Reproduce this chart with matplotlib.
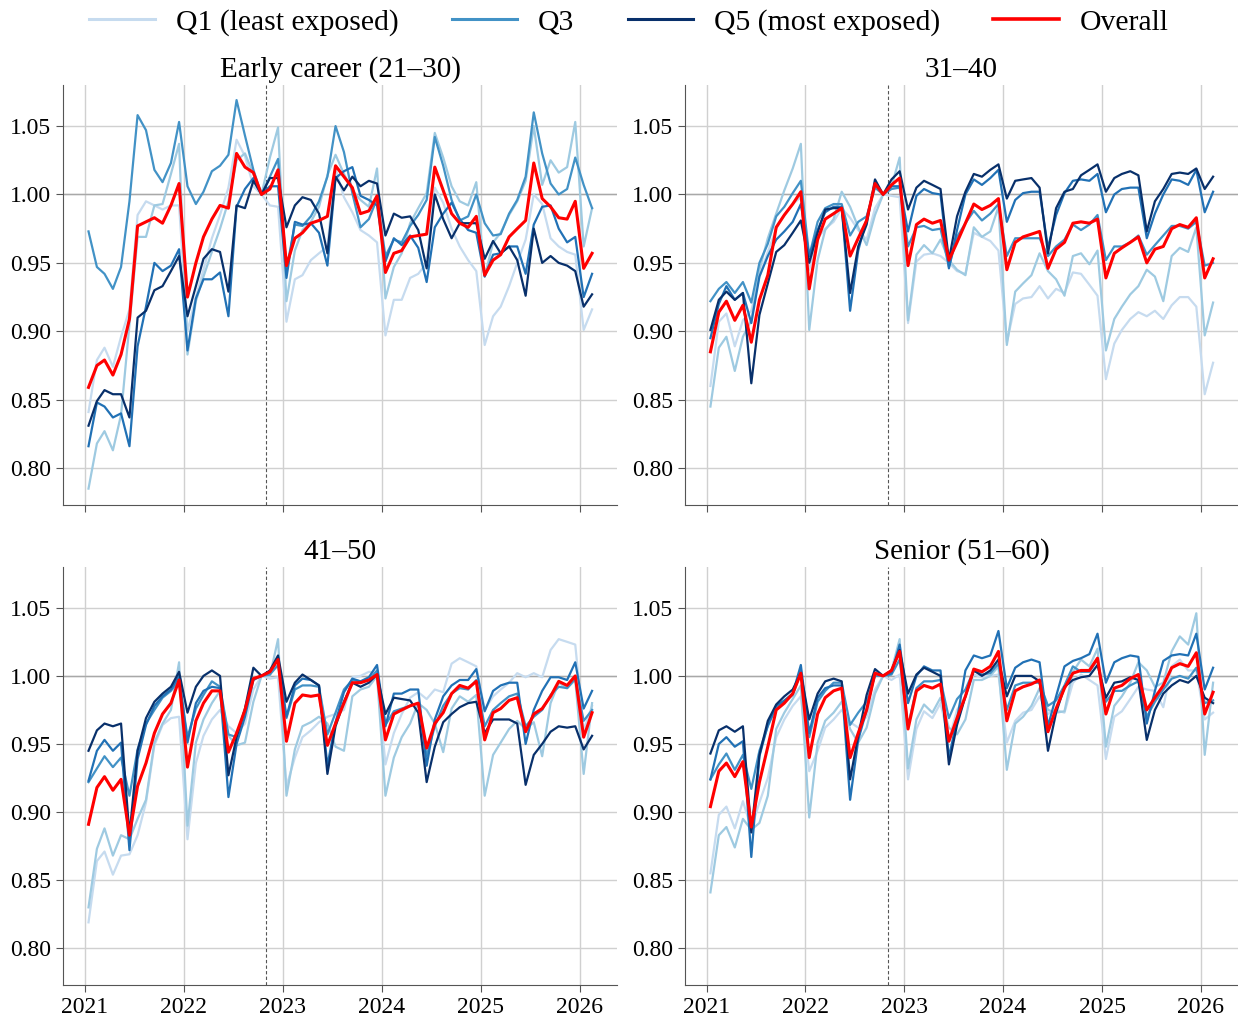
import numpy as np
import pandas as pd
import matplotlib
matplotlib.use("Agg")
import matplotlib.pyplot as plt
import matplotlib.dates as mdates
from matplotlib.lines import Line2D

plt.rcParams['font.family'] = ['Liberation Serif', 'DejaVu Serif']

# Monthly index values (normalised so Oct 2022 = 1.00), Jan 2021 .. Feb 2026
months = pd.date_range('2021-01-01', periods=62, freq='MS') + pd.Timedelta(days=14)

panel_titles = ["Early career (21\u201330)", "31\u201340", "41\u201350", "Senior (51\u201360)"]
quintile_names = ["Q1 (least exposed)", "Q2", "Q3", "Q4", "Q5 (most exposed)"]

early_q1 = [0.841, 0.879, 0.888, 0.874, 0.896, 0.916, 0.985, 0.995, 0.992, 0.989, 0.992, 0.992,
            0.900, 0.925, 0.945, 0.968, 0.985, 1.005, 1.040, 1.028, 1.006,
            1.000, 0.992, 0.991,
            0.907, 0.938, 0.941, 0.952, 0.957, 0.962, 1.019, 0.998, 0.987, 0.974, 0.970, 0.965,
            0.897, 0.923, 0.923, 0.939, 0.942, 0.950, 1.005,
            0.994, 0.975, 0.962, 0.952, 0.944, 0.890, 0.911, 0.918, 0.933, 0.950, 0.967, 1.000,
            0.993, 0.968, 0.962, 0.958, 0.956, 0.901, 0.916]
early_q2 = [0.785, 0.818, 0.827, 0.813, 0.839, 0.905, 0.969, 0.969, 0.992, 0.993, 1.015, 1.037,
            0.883, 0.922, 0.940, 0.958, 0.975, 0.995, 1.025, 1.030, 1.015,
            1.000, 1.027, 1.049,
            0.922, 0.959, 0.974, 0.980, 0.991, 1.014, 1.029, 1.015, 1.003, 0.996, 0.991, 1.019,
            0.924, 0.947, 0.957, 0.979, 0.990, 1.001, 1.045,
            1.027, 1.006, 0.995, 0.992, 1.009, 0.940, 0.965, 0.972, 0.985, 0.995, 1.010, 1.050,
            1.007, 1.025, 1.016, 1.020, 1.053, 0.962, 0.990]
early_q3 = [0.973, 0.947, 0.942, 0.931, 0.947, 0.995, 1.058, 1.047, 1.018, 1.009, 1.023, 1.053,
            1.006, 0.993, 1.002, 1.017, 1.021, 1.029, 1.069, 1.043, 1.018,
            1.000, 1.013, 1.026,
            0.945, 0.978, 0.977, 0.984, 0.995, 1.013, 1.050, 1.031, 1.001, 0.976, 0.982, 0.997,
            0.955, 0.967, 0.965, 0.977, 0.985, 0.996, 1.042,
            1.021, 0.996, 0.981, 0.984, 1.000, 0.979, 0.970, 0.971, 0.986, 0.996, 1.013, 1.060,
            1.030, 1.008, 1.000, 1.004, 1.027, 1.007, 0.990]
early_q4 = [0.816, 0.848, 0.845, 0.837, 0.840, 0.816, 0.889, 0.918, 0.950, 0.944, 0.948, 0.960,
            0.886, 0.924, 0.938, 0.938, 0.943, 0.911, 0.991, 1.004, 1.012,
            1.000, 1.006, 1.006,
            0.939, 0.980, 0.978, 0.979, 0.972, 0.948, 1.012, 1.017, 1.020, 0.999, 0.996, 0.992,
            0.951, 0.968, 0.963, 0.970, 0.961, 0.936, 0.976,
            0.986, 0.994, 0.982, 0.974, 0.972, 0.940, 0.956, 0.957, 0.962, 0.962, 0.942, 0.978,
            0.991, 0.992, 0.975, 0.965, 0.969, 0.925, 0.942]
early_q5 = [0.831, 0.849, 0.857, 0.854, 0.854, 0.837, 0.910, 0.915, 0.930, 0.933, 0.944, 0.955,
            0.911, 0.933, 0.953, 0.960, 0.958, 0.929, 0.992, 0.990, 1.010,
            1.000, 1.012, 1.012,
            0.976, 0.992, 0.998, 0.996, 0.986, 0.957, 1.013, 1.003, 1.013, 1.006, 1.010, 1.008,
            0.970, 0.986, 0.983, 0.984, 0.974, 0.946, 1.000,
            0.982, 0.968, 0.979, 0.979, 0.979, 0.953, 0.966, 0.957, 0.962, 0.952, 0.926, 0.975,
            0.950, 0.955, 0.950, 0.948, 0.944, 0.918, 0.927]
early_all = [0.859, 0.875, 0.879, 0.868, 0.883, 0.909, 0.977, 0.980, 0.983, 0.979, 0.992, 1.008,
             0.925, 0.950, 0.969, 0.982, 0.992, 0.990, 1.030, 1.020, 1.016,
             1.000, 1.004, 1.018,
             0.948, 0.968, 0.972, 0.979, 0.981, 0.984, 1.021, 1.013, 1.005, 0.986, 0.988, 0.999,
             0.943, 0.957, 0.959, 0.969, 0.970, 0.971, 1.020,
             1.003, 0.986, 0.979, 0.976, 0.984, 0.941, 0.952, 0.956, 0.969, 0.975, 0.981, 1.023,
             0.997, 0.991, 0.983, 0.982, 0.995, 0.946, 0.957]

mid1_q1 = [0.860, 0.907, 0.913, 0.889, 0.908, 0.915, 0.940, 0.958, 0.975, 0.985, 0.993, 0.998,
           0.945, 0.968, 0.975, 0.980, 0.990, 0.983, 0.974, 0.967, 0.990,
           1.000, 0.999, 0.998,
           0.906, 0.951, 0.956, 0.957, 0.955, 0.950, 0.944, 0.942, 0.972, 0.969, 0.966, 0.959,
           0.892, 0.920, 0.924, 0.925, 0.933, 0.924, 0.931,
           0.928, 0.943, 0.942, 0.934, 0.926, 0.865, 0.891, 0.901, 0.909, 0.914, 0.911, 0.915,
           0.909, 0.919, 0.925, 0.925, 0.918, 0.854, 0.877]
mid1_q2 = [0.845, 0.888, 0.896, 0.871, 0.896, 0.908, 0.945, 0.968, 0.986, 1.003, 1.019, 1.037,
           0.901, 0.952, 0.974, 0.982, 1.002, 0.991, 0.976, 0.963, 0.985,
           1.000, 1.006, 1.027,
           0.908, 0.956, 0.963, 0.957, 0.967, 0.952, 0.945, 0.941, 0.976, 0.969, 0.973, 0.991,
           0.890, 0.929, 0.935, 0.941, 0.957, 0.944, 0.938,
           0.926, 0.955, 0.957, 0.949, 0.959, 0.886, 0.909, 0.918, 0.927, 0.933, 0.945, 0.940,
           0.922, 0.955, 0.961, 0.958, 0.976, 0.897, 0.921]
mid1_q3 = [0.922, 0.931, 0.936, 0.928, 0.936, 0.921, 0.950, 0.964, 0.984, 0.991, 1.001, 1.010,
           0.955, 0.980, 0.990, 0.993, 0.993, 0.970, 0.980, 0.984, 1.005,
           1.000, 1.004, 1.005,
           0.962, 0.976, 0.977, 0.974, 0.975, 0.947, 0.969, 0.979, 0.988, 0.981, 0.986, 0.993,
           0.955, 0.968, 0.968, 0.968, 0.968, 0.955, 0.962,
           0.967, 0.978, 0.974, 0.978, 0.985, 0.952, 0.962, 0.962, 0.965, 0.970, 0.956, 0.963,
           0.970, 0.977, 0.977, 0.975, 0.980, 0.948, 0.950]
mid1_q4 = [0.895, 0.920, 0.933, 0.923, 0.928, 0.906, 0.940, 0.955, 0.967, 0.973, 0.980, 0.993,
           0.955, 0.974, 0.987, 0.991, 0.991, 0.915, 0.959, 0.982, 1.008,
           1.000, 1.006, 1.006,
           0.973, 0.999, 1.004, 1.001, 1.000, 0.946, 0.974, 1.000, 1.011, 1.007, 1.012, 1.018,
           0.980, 0.996, 1.001, 1.002, 1.002, 0.961, 0.985,
           1.001, 1.010, 1.011, 1.010, 1.015, 0.987, 1.000, 1.004, 1.005, 1.005, 0.968, 0.986,
           1.000, 1.011, 1.010, 1.007, 1.018, 0.987, 1.002]
mid1_q5 = [0.901, 0.923, 0.929, 0.923, 0.928, 0.862, 0.912, 0.935, 0.958, 0.963, 0.972, 0.981,
           0.950, 0.972, 0.989, 0.990, 0.990, 0.928, 0.962, 0.978, 1.011,
           1.000, 1.011, 1.017,
           0.989, 1.005, 1.010, 1.007, 1.004, 0.952, 0.984, 1.002, 1.015, 1.013, 1.018, 1.022,
           0.997, 1.010, 1.011, 1.012, 1.005, 0.957, 0.990,
           1.002, 1.004, 1.014, 1.018, 1.022, 1.002, 1.012, 1.015, 1.017, 1.014, 0.973, 0.995,
           1.004, 1.015, 1.016, 1.015, 1.019, 1.004, 1.013]
mid1_all = [0.885, 0.914, 0.922, 0.908, 0.919, 0.892, 0.923, 0.941, 0.976, 0.985, 0.993, 1.002,
            0.931, 0.967, 0.982, 0.986, 0.990, 0.955, 0.968, 0.981, 1.008,
            1.000, 1.007, 1.012,
            0.948, 0.978, 0.982, 0.979, 0.981, 0.952, 0.965, 0.979, 0.993, 0.989, 0.992, 0.997,
            0.945, 0.965, 0.969, 0.971, 0.973, 0.946, 0.960,
            0.965, 0.979, 0.980, 0.979, 0.982, 0.939, 0.957, 0.961, 0.965, 0.969, 0.950, 0.960,
            0.962, 0.975, 0.978, 0.976, 0.983, 0.939, 0.953]

mid2_q1 = [0.819, 0.864, 0.871, 0.854, 0.868, 0.869, 0.883, 0.907, 0.949, 0.964, 0.969, 0.970,
           0.880, 0.936, 0.956, 0.968, 0.975, 0.963, 0.958, 0.965, 0.990,
           1.000, 0.998, 0.999,
           0.919, 0.940, 0.955, 0.960, 0.966, 0.970, 0.972, 0.975, 0.999, 1.000, 1.003, 1.002,
           0.935, 0.958, 0.972, 0.984, 0.988, 0.983, 0.990,
           0.988, 1.009, 1.013, 1.010, 1.007, 0.975, 0.985, 0.990, 0.995, 1.002, 0.999, 1.002,
           0.999, 1.019, 1.027, 1.025, 1.023, 0.960, 0.978]
mid2_q2 = [0.830, 0.873, 0.888, 0.868, 0.883, 0.880, 0.895, 0.909, 0.951, 0.965, 0.975, 1.010,
           0.890, 0.951, 0.968, 0.980, 0.989, 0.956, 0.949, 0.951, 0.981,
           1.000, 1.000, 1.027,
           0.912, 0.946, 0.963, 0.966, 0.970, 0.965, 0.948, 0.945, 0.985, 0.990, 0.992, 1.000,
           0.912, 0.940, 0.955, 0.965, 0.980, 0.975, 0.965,
           0.944, 0.976, 0.985, 0.981, 0.986, 0.912, 0.942, 0.951, 0.961, 0.967, 0.961, 0.966,
           0.941, 0.980, 0.995, 0.991, 0.997, 0.928, 0.980]
mid2_q3 = [0.922, 0.932, 0.941, 0.933, 0.940, 0.912, 0.946, 0.965, 0.975, 0.984, 0.989, 0.997,
           0.955, 0.976, 0.986, 0.996, 0.992, 0.957, 0.955, 0.975, 0.998,
           1.000, 1.001, 1.008,
           0.969, 0.990, 0.993, 0.993, 0.992, 0.957, 0.973, 0.990, 0.997, 0.996, 0.997, 1.004,
           0.964, 0.974, 0.976, 0.978, 0.980, 0.941, 0.963,
           0.978, 0.987, 0.991, 0.990, 0.997, 0.963, 0.975, 0.980, 0.985, 0.987, 0.963, 0.970,
           0.975, 0.986, 0.992, 0.991, 0.998, 0.967, 0.975]
mid2_q4 = [0.923, 0.945, 0.953, 0.945, 0.951, 0.872, 0.939, 0.964, 0.978, 0.985, 0.990, 1.000,
           0.951, 0.980, 0.989, 0.992, 0.991, 0.911, 0.950, 0.970, 0.997,
           1.000, 1.003, 1.013,
           0.970, 0.993, 0.998, 0.997, 0.993, 0.934, 0.966, 0.988, 0.998, 0.996, 0.999, 1.008,
           0.963, 0.987, 0.987, 0.990, 0.990, 0.934, 0.968,
           0.985, 0.993, 0.997, 0.997, 1.005, 0.974, 0.989, 0.993, 0.995, 0.995, 0.950, 0.975,
           0.989, 0.999, 0.999, 0.997, 1.010, 0.976, 0.989]
mid2_q5 = [0.945, 0.960, 0.965, 0.963, 0.965, 0.883, 0.945, 0.969, 0.981, 0.987, 0.992, 1.003,
           0.973, 0.992, 1.000, 1.004, 1.000, 0.927, 0.955, 0.976, 1.006,
           1.000, 1.004, 1.015,
           0.981, 0.995, 1.001, 0.997, 0.993, 0.928, 0.963, 0.981, 0.995, 0.992, 0.995, 1.001,
           0.972, 0.984, 0.983, 0.982, 0.973, 0.922, 0.948,
           0.966, 0.972, 0.977, 0.980, 0.981, 0.958, 0.968, 0.968, 0.968, 0.965, 0.920, 0.942,
           0.950, 0.959, 0.963, 0.962, 0.963, 0.946, 0.956]
mid2_all = [0.891, 0.918, 0.926, 0.916, 0.924, 0.883, 0.919, 0.936, 0.958, 0.972, 0.980, 0.997,
            0.933, 0.967, 0.980, 0.989, 0.989, 0.944, 0.958, 0.975, 0.998,
            1.000, 1.003, 1.012,
            0.952, 0.980, 0.986, 0.985, 0.986, 0.949, 0.965, 0.980, 0.995, 0.995, 0.997, 1.001,
            0.953, 0.972, 0.975, 0.978, 0.980, 0.947, 0.965,
            0.973, 0.987, 0.993, 0.991, 0.996, 0.953, 0.973, 0.976, 0.982, 0.984, 0.959, 0.972,
            0.976, 0.985, 0.996, 0.993, 1.000, 0.955, 0.973]

senior_q1 = [0.855, 0.898, 0.904, 0.888, 0.908, 0.888, 0.907, 0.925, 0.955, 0.968, 0.978, 0.985,
             0.930, 0.945, 0.962, 0.968, 0.975, 0.966, 0.962, 0.970, 0.990,
             1.000, 0.997, 1.001,
             0.924, 0.961, 0.974, 0.969, 0.980, 0.953, 0.975, 0.985, 1.001, 0.999, 1.000, 1.001,
             0.951, 0.967, 0.973, 0.975, 0.985, 0.972, 0.975,
             0.973, 0.995, 1.001, 0.997, 0.993, 0.939, 0.970, 0.974, 0.983, 0.992, 0.990, 0.989,
             0.977, 1.007, 1.012, 1.004, 1.004, 0.968, 0.973]
senior_q2 = [0.841, 0.883, 0.889, 0.874, 0.895, 0.887, 0.892, 0.912, 0.961, 0.973, 0.983, 0.993,
             0.896, 0.951, 0.967, 0.973, 0.981, 0.961, 0.951, 0.962, 0.987,
             1.000, 1.004, 1.027,
             0.932, 0.968, 0.979, 0.973, 0.984, 0.962, 0.957, 0.968, 0.997, 0.997, 1.000, 1.007,
             0.931, 0.965, 0.970, 0.978, 0.991, 0.975, 0.973,
             0.974, 1.003, 1.012, 1.007, 1.020, 0.948, 0.978, 0.985, 0.995, 1.010, 1.004, 0.992,
             0.995, 1.018, 1.029, 1.023, 1.046, 0.942, 0.995]
senior_q3 = [0.924, 0.935, 0.943, 0.931, 0.942, 0.917, 0.945, 0.963, 0.977, 0.981, 0.986, 1.003,
             0.955, 0.981, 0.989, 0.995, 0.995, 0.964, 0.973, 0.981, 1.000,
             1.000, 1.001, 1.012,
             0.963, 0.991, 0.996, 0.996, 0.997, 0.969, 0.983, 0.990, 1.004, 1.001, 1.002, 1.009,
             0.975, 0.993, 0.995, 0.995, 0.995, 0.978, 0.982,
             0.993, 1.007, 1.003, 1.003, 1.012, 0.981, 0.989, 0.989, 0.993, 0.996, 0.970, 0.981,
             0.990, 0.998, 1.000, 0.998, 1.006, 0.980, 0.982]
senior_q4 = [0.924, 0.950, 0.955, 0.948, 0.952, 0.867, 0.941, 0.964, 0.978, 0.982, 0.987, 1.008,
             0.958, 0.984, 0.991, 0.993, 0.993, 0.909, 0.953, 0.975, 1.002,
             1.000, 1.002, 1.023,
             0.980, 1.000, 1.007, 1.004, 1.004, 0.940, 0.968, 1.004, 1.015, 1.013, 1.015, 1.033,
             0.991, 1.006, 1.010, 1.012, 1.010, 0.963, 0.985,
             1.007, 1.011, 1.013, 1.016, 1.031, 0.995, 1.010, 1.013, 1.015, 1.014, 0.965, 0.989,
             1.011, 1.015, 1.016, 1.015, 1.031, 0.990, 1.006]
senior_q5 = [0.943, 0.960, 0.963, 0.959, 0.963, 0.885, 0.942, 0.967, 0.979, 0.985, 0.990, 1.002,
             0.968, 0.987, 0.996, 0.998, 0.996, 0.924, 0.956, 0.986, 1.005,
             1.000, 1.004, 1.019,
             0.987, 1.001, 1.006, 1.003, 1.000, 0.935, 0.964, 0.985, 1.004, 1.000, 1.004, 1.012,
             0.985, 1.000, 1.000, 1.000, 0.996, 0.945, 0.973,
             0.992, 0.997, 0.999, 1.000, 1.008, 0.984, 0.995, 0.996, 0.999, 0.997, 0.953, 0.975,
             0.987, 0.993, 0.997, 0.995, 1.000, 0.984, 0.980]
senior_all = [0.904, 0.930, 0.936, 0.926, 0.937, 0.889, 0.922, 0.948, 0.975, 0.980, 0.987, 1.002,
              0.940, 0.972, 0.984, 0.989, 0.991, 0.940, 0.958, 0.975, 1.002,
              1.000, 1.004, 1.018,
              0.961, 0.989, 0.993, 0.991, 0.994, 0.952, 0.969, 0.985, 1.005, 1.003, 1.007, 1.018,
              0.967, 0.989, 0.992, 0.994, 0.997, 0.959, 0.976,
              0.991, 1.002, 1.004, 1.004, 1.013, 0.972, 0.991, 0.993, 0.998, 1.001, 0.975, 0.984,
              0.993, 1.006, 1.009, 1.007, 1.017, 0.972, 0.988]

panels = [
    ([early_q1, early_q2, early_q3, early_q4, early_q5], early_all),
    ([mid1_q1, mid1_q2, mid1_q3, mid1_q4, mid1_q5], mid1_all),
    ([mid2_q1, mid2_q2, mid2_q3, mid2_q4, mid2_q5], mid2_all),
    ([senior_q1, senior_q2, senior_q3, senior_q4, senior_q5], senior_all),
]

quintile_colors = ["#c6dbef", "#9ecae1", "#4292c6", "#2171b5", "#08306b"]
overall_color = "#ff0000"
chatgpt_date = pd.Timestamp("2022-11-01")

fig = plt.figure(figsize=(12.38, 10.17), dpi=100)
boxes = [
    [0.0509, 0.5034, 0.4475, 0.4130],
    [0.5533, 0.5034, 0.4467, 0.4130],
    [0.0509, 0.0315, 0.4475, 0.4110],
    [0.5533, 0.0315, 0.4467, 0.4110],
]

for k, (box, title, (qs, overall)) in enumerate(zip(boxes, panel_titles, panels)):
    ax = fig.add_axes(box)
    ax.set_axisbelow(True)
    ax.grid(True, color="#d0d0d0", linewidth=1.0)
    ax.axhline(1.0, color="#a8a8a8", linewidth=1.0, zorder=1)
    ax.axvline(chatgpt_date, color="#555555", linewidth=0.8, linestyle=(0, (3, 2)), zorder=1)
    for q, c in zip(qs, quintile_colors):
        ax.plot(months, q, color=c, linewidth=1.6, zorder=2)
    ax.plot(months, overall, color=overall_color, linewidth=2.2, zorder=3)

    ax.set_title(title, fontsize=21, pad=6)
    ax.set_ylim(0.773, 1.08)
    ax.set_yticks([0.80, 0.85, 0.90, 0.95, 1.00, 1.05])
    ax.yaxis.set_major_formatter(matplotlib.ticker.FormatStrFormatter('%.2f'))
    ax.set_xlim(pd.Timestamp("2020-10-13"), pd.Timestamp("2026-05-18"))
    ax.xaxis.set_major_locator(mdates.YearLocator())
    ax.xaxis.set_major_formatter(mdates.DateFormatter('%Y'))
    ax.tick_params(axis='both', labelsize=17, color="#555555", length=5, width=0.8)
    if k < 2:
        ax.tick_params(axis='x', labelbottom=False)
    for side in ("top", "right"):
        ax.spines[side].set_visible(False)
    for side in ("left", "bottom"):
        ax.spines[side].set_color("#555555")
        ax.spines[side].set_linewidth(0.8)

handles = [
    Line2D([], [], color=quintile_colors[0], linewidth=2.2),
    Line2D([], [], color=quintile_colors[2], linewidth=2.2),
    Line2D([], [], color=quintile_colors[4], linewidth=2.2),
    Line2D([], [], color=overall_color, linewidth=2.6),
]
labels = [quintile_names[0], quintile_names[2], quintile_names[4], "Overall"]
fig.legend(handles, labels, loc="center", bbox_to_anchor=(0.508, 0.978), ncol=4,
           frameon=False, fontsize=21.4, handlelength=2.2, handletextpad=0.7,
           columnspacing=1.8)

fig.savefig("out.png", dpi=100)
